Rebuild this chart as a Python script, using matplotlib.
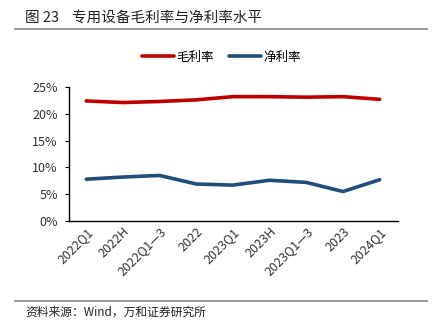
import numpy as np
import matplotlib
matplotlib.use("Agg")
import matplotlib.pyplot as plt

plt.rcParams['font.family'] = ['Noto Sans CJK SC', 'DejaVu Sans']

periods = ['2022Q1', '2022H', '2022Q1-3', '2022', '2023Q1', '2023H', '2023Q1-3', '2023', '2024Q1']
gross_margin = [22.4, 22.1, 22.3, 22.6, 23.2, 23.2, 23.1, 23.2, 22.7]
net_margin = [7.8, 8.2, 8.5, 6.9, 6.7, 7.6, 7.2, 5.5, 7.7]

fig = plt.figure(figsize=(4.4, 3.33), dpi=100)
ax = fig.add_axes([69/440, 1-221/333, (398-69)/440, (221-87)/333])

x = np.arange(len(periods))
ax.plot(x, gross_margin, color='#C00000', lw=2.6, label='毛利率', solid_capstyle='round')
ax.plot(x, net_margin, color='#1F4E79', lw=2.6, label='净利率', solid_capstyle='round')

ax.set_ylim(0, 25)
ax.set_xlim(-0.47, 8.5)
ax.set_yticks([0, 5, 10, 15, 20, 25])
ax.set_yticklabels([f'{v}%' for v in [0, 5, 10, 15, 20, 25]], fontsize=9, color='#333333')
ax.set_xticks(x)
ax.set_xticklabels([p.replace('-', '—') for p in periods], rotation=45, ha='right',
                   rotation_mode='anchor', fontsize=9, color='#333333')
ax.tick_params(axis='x', length=0, pad=3)
ax.tick_params(axis='y', length=3, width=0.8, direction='out', pad=5)
for s in ['top', 'right']:
    ax.spines[s].set_visible(False)
ax.spines['left'].set_linewidth(1)
ax.spines['bottom'].set_linewidth(1)

leg = fig.legend(loc='center', bbox_to_anchor=(221/440, 1-57/333), ncol=2, frameon=False,
                 fontsize=9, handlelength=2.6, handletextpad=0.15, columnspacing=1.2)

fig.text(25/440, 1-18/333, '图 23    专用设备毛利率与净利率水平', fontsize=10.5, va='center', ha='left', color='#222222')
fig.add_artist(plt.Line2D([15/440, 427/440], [1-29/333, 1-29/333], color='#888888', lw=1.2))
fig.add_artist(plt.Line2D([15/440, 427/440], [1-301/333, 1-301/333], color='#888888', lw=1.2))
fig.text(25/440, 1-312/333, '资料来源：Wind，万和证券研究所', fontsize=8.5, va='center', ha='left', color='#222222')

fig.savefig('out.png', dpi=100)
